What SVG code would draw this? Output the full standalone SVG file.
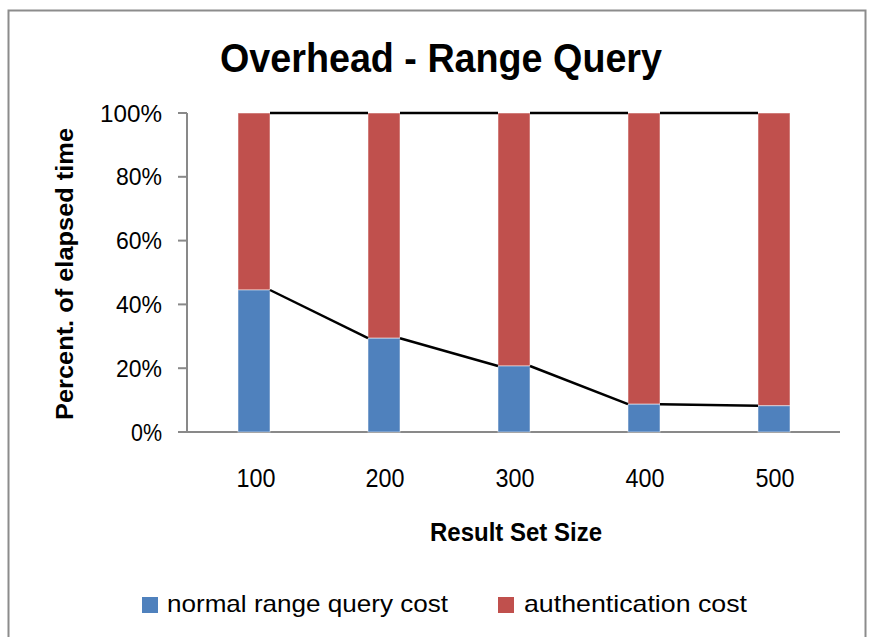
<svg xmlns="http://www.w3.org/2000/svg" width="871" height="637" viewBox="0 0 871 637">
<style>
.t{font-family:"Liberation Sans",Arial,sans-serif;fill:#000}
.ax{stroke:#898989;stroke-width:2;fill:none}
.blue{fill:#4F81BD;stroke:#ffffff;stroke-opacity:0.5;stroke-width:1}
.red{fill:#C0504D;stroke:#ffffff;stroke-opacity:0.5;stroke-width:1}
.sl{stroke:#000;stroke-width:2.5;fill:none}
.yl{font-size:24px;text-anchor:end}
.xl{font-size:25px;text-anchor:middle}
</style>
<rect width="871" height="637" fill="#ffffff"/>
<rect x="8.5" y="10.5" width="857" height="640" fill="#ffffff" stroke="#8c8c8c" stroke-width="2"/>
<g id="title"><text class="t" x="441" y="72" font-size="40" font-weight="bold" text-anchor="middle" textLength="442" lengthAdjust="spacingAndGlyphs">Overhead - Range Query</text></g>
<g id="axes">
<line class="ax" x1="187" y1="113" x2="187" y2="433"/>
<line class="ax" x1="178" y1="432" x2="840" y2="432"/>
<line class="ax" x1="178" y1="113" x2="187" y2="113"/>
<line class="ax" x1="178" y1="176.8" x2="187" y2="176.8"/>
<line class="ax" x1="178" y1="240.6" x2="187" y2="240.6"/>
<line class="ax" x1="178" y1="304.4" x2="187" y2="304.4"/>
<line class="ax" x1="178" y1="368.2" x2="187" y2="368.2"/>
</g>
<g id="y-labels">
<text class="t yl" x="162" y="121.5" textLength="62" lengthAdjust="spacingAndGlyphs">100%</text>
<text class="t yl" x="162" y="185.3" textLength="46" lengthAdjust="spacingAndGlyphs">80%</text>
<text class="t yl" x="162" y="249.1" textLength="46" lengthAdjust="spacingAndGlyphs">60%</text>
<text class="t yl" x="162" y="312.9" textLength="46" lengthAdjust="spacingAndGlyphs">40%</text>
<text class="t yl" x="162" y="376.7" textLength="46" lengthAdjust="spacingAndGlyphs">20%</text>
<text class="t yl" x="162" y="440.5" textLength="31" lengthAdjust="spacingAndGlyphs">0%</text>
</g>
<g id="y-title"><text class="t" transform="translate(73,274) rotate(-90)" font-size="24" font-weight="bold" text-anchor="middle" textLength="292" lengthAdjust="spacingAndGlyphs">Percent. of elapsed time</text></g>
<g id="bar-100"><rect class="red" x="238" y="113" width="32" height="177"/><rect class="blue" x="238" y="290" width="32" height="142"/></g>
<g id="bar-200"><rect class="red" x="368" y="113" width="32" height="225.2"/><rect class="blue" x="368" y="338.2" width="32" height="93.8"/></g>
<g id="bar-300"><rect class="red" x="498" y="113" width="32" height="253"/><rect class="blue" x="498" y="366" width="32" height="66"/></g>
<g id="bar-400"><rect class="red" x="628" y="113" width="32" height="291.2"/><rect class="blue" x="628" y="404.2" width="32" height="27.8"/></g>
<g id="bar-500"><rect class="red" x="758" y="113" width="32" height="292.8"/><rect class="blue" x="758" y="405.8" width="32" height="26.2"/></g>
<g id="connectors">
<polyline class="sl" points="270,290 368,338.2"/>
<polyline class="sl" points="400,338.2 498,366"/>
<polyline class="sl" points="530,366 628,404.2"/>
<polyline class="sl" points="660,404.2 758,405.8"/>
<polyline class="sl" points="270,113 368,113"/>
<polyline class="sl" points="400,113 498,113"/>
<polyline class="sl" points="530,113 628,113"/>
<polyline class="sl" points="660,113 758,113"/>
</g>
<g id="x-labels">
<text class="t xl" x="256" y="487" textLength="39" lengthAdjust="spacingAndGlyphs">100</text>
<text class="t xl" x="385" y="487" textLength="39" lengthAdjust="spacingAndGlyphs">200</text>
<text class="t xl" x="515" y="487" textLength="39" lengthAdjust="spacingAndGlyphs">300</text>
<text class="t xl" x="645" y="487" textLength="39" lengthAdjust="spacingAndGlyphs">400</text>
<text class="t xl" x="775" y="487" textLength="39" lengthAdjust="spacingAndGlyphs">500</text>
</g>
<g id="x-title"><text class="t" x="516" y="541" font-size="25" font-weight="bold" text-anchor="middle" textLength="172" lengthAdjust="spacingAndGlyphs">Result Set Size</text></g>
<g id="legend">
<rect x="142" y="597" width="16" height="16" fill="#4F81BD"/>
<text class="t" x="167" y="612" font-size="24" textLength="281" lengthAdjust="spacingAndGlyphs">normal range query cost</text>
<rect x="498" y="597" width="16" height="16" fill="#C0504D"/>
<text class="t" x="524" y="612" font-size="24" textLength="223" lengthAdjust="spacingAndGlyphs">authentication cost</text>
</g>
</svg>
